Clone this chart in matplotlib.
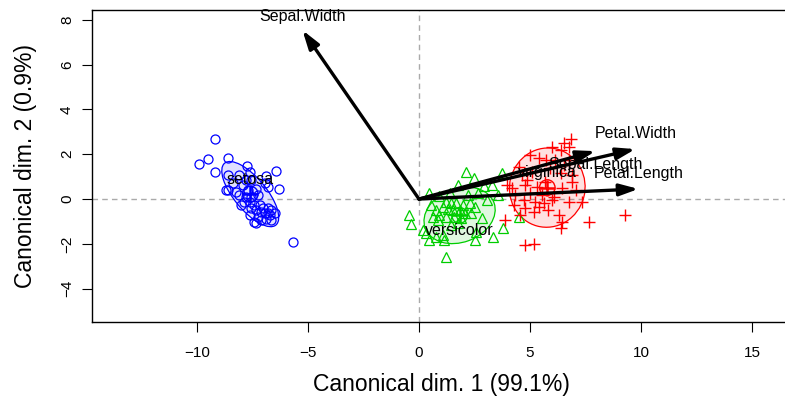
import matplotlib
matplotlib.use("Agg")
import matplotlib.pyplot as plt
import numpy as np
from matplotlib.patches import Ellipse, Circle

plt.rcParams['font.family'] = ['Liberation Sans', 'DejaVu Sans']

# canonical scores (Can1, Can2)
setosa_x = [-9.21, -9.91, -9.51, -8.62, -9.18, -7.74, -6.44, -6.88, -6.29, -5.68, -7.59, -8.70,
            -8.62, -8.09, -7.78, -7.56, -8.39, -7.94, -8.62, -8.24, -7.71, -7.33, -6.95, -6.80,
            -8.09, -7.78, -7.56, -7.25, -7.86, -7.63, -7.41, -7.18, -8.01, -7.56, -7.33, -7.10,
            -6.80, -6.65, -6.95, -6.72, -6.50, -6.88, -7.25, -7.10, -6.65, -7.41, -7.63, -7.33,
            -6.80, -7.03]
setosa_y = [2.69, 1.56, 1.80, 1.82, 1.21, 1.46, 1.24, 1.04, 0.45, -1.91, 1.21, 0.40,
            1.07, 1.07, 0.84, 0.84, 0.70, 0.62, 0.40, 0.32, 0.40, 0.47, 0.70, 0.55,
            0.18, 0.10, 0.10, 0.18, -0.12, -0.12, -0.27, -0.27, -0.27, -0.42, -0.49, -0.57,
            -0.42, -0.49, -0.64, -0.72, -0.64, -0.87, -0.79, -0.94, -0.94, -1.02, -0.72, -1.09,
            -0.64, -0.42]

versicolor_x = [2.10, 2.47, 1.76, 0.44, -0.47, -0.36, 1.23, 0.92, 1.38, 2.21, 2.67, 3.05,
                1.23, 1.45, 1.68, 1.99, 2.29, 2.51, 1.08, 1.30, 1.53, 1.83, 2.06, 2.36,
                0.92, 1.23, 1.60, 1.91, 2.82, 0.62, 0.85, 0.32, 0.47, 0.77, 1.08, 1.15,
                2.51, 0.17, 2.59, 3.35, 3.80, 0.77, 1.76, 1.45, 3.73, 3.55, 4.50, 3.27,
                2.91, 0.55]
versicolor_y = [1.22, 0.92, 0.62, 0.25, -0.71, -1.12, -2.58, 0.13, 0.25, 0.18, 0.25, -0.04,
                -0.12, -0.19, -0.17, -0.27, -0.19, -0.34, -0.34, -0.46, -0.49, -0.49, -0.64, -0.64,
                -0.71, -0.79, -0.79, -0.86, -0.86, -0.79, -0.94, -1.53, -1.83, -1.68, -1.61, -1.83,
                -1.83, -1.38, -1.46, -1.68, -1.31, -0.49, -1.08, -1.16, 1.16, 0.18, -0.80, 0.62,
                0.58, -0.27]

virginica_x = [6.83, 6.53, 6.00, 6.76, 6.38, 5.01, 5.40, 6.76, 4.49, 5.09, 6.38, 6.91,
               6.91, 3.95, 4.18, 4.79, 5.32, 6.45, 4.33, 5.01, 5.55, 6.08, 4.71, 5.24,
               5.62, 4.79, 5.40, 5.17, 6.00, 7.36, 3.88, 6.30, 6.45, 7.67, 6.38, 9.26,
               4.79, 5.17, 5.92, 5.70, 4.64, 7.06, 6.76, 4.26, 5.73, 6.14, 4.86, 5.82,
               4.55, 6.55]
virginica_y = [2.68, 2.49, 2.33, 2.33, 2.19, 1.96, 1.82, 1.74, 1.44, 1.22, 1.15, 1.07,
               0.77, 0.62, 0.48, 0.62, 0.55, 0.48, 0.18, 0.25, 0.18, 0.10, -0.04, -0.12,
               -0.19, -0.42, -0.34, -0.57, -0.04, -0.12, -0.94, -0.71, -1.01, -1.01, -1.31, -0.71,
               -2.05, -2.02, 1.37, 0.77, 1.07, 0.40, -0.12, -0.27, 1.74, 1.74, 0.85, -0.49,
               -0.71, 1.52]

groups = ['setosa', 'versicolor', 'virginica']
group_means = [(-7.60, 0.22), (1.83, -0.73), (5.78, 0.51)]
# 68% data ellipses: (width, height, angle)
group_ellipses = [(3.6, 1.45, -50), (3.3, 2.4, 20), (3.4, 3.55, -15)]

variables = ['Sepal.Length', 'Sepal.Width', 'Petal.Length', 'Petal.Width']
vec_x = [7.95, -5.25, 9.89, 9.75]
vec_y = [2.14, 7.54, 0.45, 2.23]

colors = ['#0000FF', '#00CD00', '#FF0000']
markers = ['o', '^', '+']
label_dy = [0.32, -0.32, 0.32]
vec_label_dy = [-0.62, 0.62, 0.68, 0.68]

fig = plt.figure(figsize=(7.85, 4.0), dpi=100)
ax = fig.add_axes([92 / 785, 78 / 400, 693 / 785, 312 / 400])

ax.axhline(0, color='#AAAAAA', lw=1, ls=(0, (4, 3)), zorder=0)
ax.axvline(0, color='#AAAAAA', lw=1, ls=(0, (4, 3)), zorder=0)

xs = [setosa_x, versicolor_x, virginica_x]
ys = [setosa_y, versicolor_y, virginica_y]
for i, g in enumerate(groups):
    c = colors[i]
    if markers[i] == '+':
        ax.plot(xs[i], ys[i], ls='none', marker='+', ms=9, mew=1.0, color=c)
    else:
        ax.plot(xs[i], ys[i], ls='none', marker=markers[i], ms=6.5 if i == 0 else 7,
                mfc='none', mec=c, mew=0.9)
    w, h, a = group_ellipses[i]
    ax.add_patch(Ellipse(group_means[i], w, h, angle=a, facecolor=c, alpha=0.12, lw=0))
    ax.add_patch(Ellipse(group_means[i], w, h, angle=a, facecolor='none', edgecolor=c, lw=0.9))
    ax.add_patch(Circle(group_means[i], 0.35, facecolor='none', edgecolor=c, lw=1.0))
    ax.plot(*group_means[i], marker='+', ms=12, mew=1.8, color=c)
    ax.text(group_means[i][0], group_means[i][1] + label_dy[i], g, fontsize=11.5,
            ha='center', va='bottom' if label_dy[i] > 0 else 'top')

for v, vx, vy, dy in zip(variables, vec_x, vec_y, vec_label_dy):
    ax.annotate('', xy=(vx, vy), xytext=(0, 0),
                arrowprops=dict(arrowstyle='-|>,head_length=0.7,head_width=0.22',
                                lw=2.4, color='black',
                                mutation_scale=16, shrinkA=0, shrinkB=0))
    ax.text(vx, vy + dy, v, fontsize=11.5, ha='center', va='center')

ax.set_xlim(-14.73, 16.49)
ax.set_ylim(-5.49, 8.44)
ax.set_xticks([-10, -5, 0, 5, 10, 15])
ax.set_yticks([-4, -2, 0, 2, 4, 6, 8])
ax.tick_params(direction='out', length=7, width=0.8, labelsize=11, pad=10)
ax.tick_params(axis='y', pad=6)
for t in ax.get_yticklabels():
    t.set_rotation(90)
    t.set_va('center')
ax.spines['right'].set_visible(False)
for s in ['left', 'bottom', 'top']:
    ax.spines[s].set_linewidth(1.0)

fig.text(441 / 785, 1 - 385 / 400, 'Canonical dim. 1 (99.1%)', fontsize=16.5,
         ha='center', va='center')
fig.text(26 / 785, 1 - 166 / 400, 'Canonical dim. 2 (0.9%)', fontsize=16.5,
         ha='center', va='center', rotation=90)

fig.savefig('out.png', dpi=100)
